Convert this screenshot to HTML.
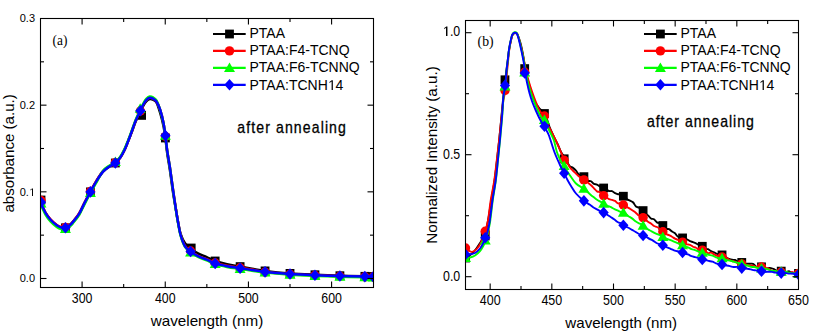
<!DOCTYPE html>
<html><head><meta charset="utf-8"><style>
html,body{margin:0;padding:0;background:#fff;}
svg{display:block;}
</style></head><body>
<svg width="820" height="336" viewBox="0 0 820 336">
<rect width="820" height="336" fill="#fff"/>
<defs><clipPath id="cl"><rect x="40.5" y="18.5" width="333" height="269"/></clipPath><clipPath id="cr"><rect x="465.5" y="20.5" width="333" height="269"/></clipPath></defs>
<g clip-path="url(#cl)"><path d="M40.50,202.20 C41.33,203.98 43.83,209.97 45.50,212.90 C47.17,215.83 48.62,217.68 50.50,219.75 C52.38,221.82 55.00,224.03 56.75,225.30 C58.50,226.58 59.54,226.98 61.00,227.40 C62.46,227.82 64.08,228.10 65.50,227.80 C66.92,227.50 68.25,226.58 69.50,225.60 C70.75,224.62 71.38,223.90 73.00,221.90 C74.62,219.90 77.32,216.77 79.25,213.60 C81.18,210.43 82.72,206.55 84.60,202.90 C86.47,199.25 88.47,195.42 90.50,191.70 C92.53,187.98 94.67,183.95 96.75,180.60 C98.83,177.25 100.92,173.93 103.00,171.60 C105.08,169.27 107.27,167.95 109.25,166.60 C111.23,165.25 113.06,165.02 114.90,163.50 C116.74,161.98 118.70,159.75 120.30,157.50 C121.90,155.25 123.18,152.75 124.50,150.00 C125.82,147.25 127.08,143.73 128.20,141.00 C129.32,138.27 129.94,136.91 131.20,133.61 C132.46,130.31 134.20,124.87 135.75,121.18 C137.30,117.48 139.21,114.06 140.50,111.43 C141.79,108.81 142.50,107.14 143.50,105.43 C144.50,103.72 145.46,102.23 146.50,101.17 C147.54,100.12 148.67,99.35 149.75,99.11 C150.83,98.87 151.86,99.16 153.00,99.74 C154.14,100.32 155.37,100.28 156.60,102.60 C157.83,104.92 159.25,109.75 160.40,113.67 C161.55,117.59 162.67,122.02 163.50,126.12 C164.33,130.22 164.78,133.69 165.40,138.25 C166.03,142.81 166.48,148.12 167.25,153.50 C168.02,158.88 169.06,164.17 170.00,170.50 C170.94,176.83 171.90,184.92 172.90,191.50 C173.90,198.08 175.13,204.84 176.00,210.00 C176.87,215.16 177.33,218.48 178.10,222.46 C178.87,226.44 179.45,230.42 180.60,233.89 C181.75,237.35 183.33,240.80 185.00,243.25 C186.67,245.70 188.43,246.91 190.60,248.61 C192.77,250.31 195.32,252.06 198.00,253.46 C200.68,254.86 203.83,255.78 206.70,257.03 C209.57,258.29 211.82,259.81 215.20,261.01 C218.58,262.20 222.83,263.25 227.00,264.18 C231.17,265.12 236.03,265.85 240.20,266.60 C244.37,267.36 247.88,267.97 252.00,268.69 C256.12,269.40 258.57,270.11 264.90,270.90 C271.23,271.68 281.67,272.76 290.00,273.40 C298.33,274.04 306.63,274.37 314.90,274.75 C323.17,275.13 331.33,275.44 339.60,275.70 C347.87,275.96 358.85,276.17 364.50,276.30 C370.15,276.43 372.00,276.47 373.50,276.50" fill="none" stroke="#000000" stroke-width="2.5" stroke-linejoin="round"/><rect x="36.60" y="195.60" width="8.80" height="8.80" fill="#000000"/><rect x="61.05" y="223.40" width="8.80" height="8.80" fill="#000000"/><rect x="86.00" y="187.49" width="8.80" height="8.80" fill="#000000"/><rect x="110.95" y="158.60" width="8.80" height="8.80" fill="#000000"/><rect x="137.20" y="111.00" width="8.80" height="8.80" fill="#000000"/><rect x="161.00" y="133.60" width="8.80" height="8.80" fill="#000000"/><rect x="186.80" y="243.60" width="8.80" height="8.80" fill="#000000"/><rect x="210.76" y="256.59" width="8.80" height="8.80" fill="#000000"/><rect x="235.71" y="262.19" width="8.80" height="8.80" fill="#000000"/><rect x="260.66" y="266.51" width="8.80" height="8.80" fill="#000000"/><rect x="285.61" y="269.00" width="8.80" height="8.80" fill="#000000"/><rect x="310.56" y="270.35" width="8.80" height="8.80" fill="#000000"/><rect x="335.51" y="271.31" width="8.80" height="8.80" fill="#000000"/><rect x="360.46" y="271.91" width="8.80" height="8.80" fill="#000000"/><rect x="368.78" y="272.09" width="8.80" height="8.80" fill="#000000"/><path d="M40.50,201.80 C41.33,203.58 43.83,209.57 45.50,212.50 C47.17,215.43 48.62,217.28 50.50,219.35 C52.38,221.42 55.00,223.62 56.75,224.90 C58.50,226.18 59.54,226.58 61.00,227.00 C62.46,227.42 64.08,227.70 65.50,227.40 C66.92,227.10 68.25,226.18 69.50,225.20 C70.75,224.22 71.38,223.50 73.00,221.50 C74.62,219.50 77.32,216.37 79.25,213.20 C81.18,210.03 82.72,206.15 84.60,202.50 C86.47,198.85 88.47,195.02 90.50,191.30 C92.53,187.58 94.67,183.55 96.75,180.20 C98.83,176.85 100.92,173.53 103.00,171.20 C105.08,168.87 107.27,167.55 109.25,166.20 C111.23,164.85 113.06,164.55 114.90,163.10 C116.74,161.65 118.70,159.68 120.30,157.50 C121.90,155.32 123.18,152.75 124.50,150.00 C125.82,147.25 127.08,143.83 128.20,141.00 C129.32,138.17 129.94,136.42 131.20,133.00 C132.46,129.58 134.20,124.25 135.75,120.50 C137.30,116.75 139.21,113.21 140.50,110.50 C141.79,107.79 142.50,106.03 143.50,104.25 C144.50,102.47 145.46,100.88 146.50,99.80 C147.54,98.72 148.67,97.95 149.75,97.75 C150.83,97.55 151.86,97.93 153.00,98.60 C154.14,99.27 155.37,99.77 156.60,101.75 C157.83,103.73 159.25,106.96 160.40,110.50 C161.55,114.04 162.67,118.79 163.50,123.00 C164.33,127.21 164.78,131.08 165.40,135.75 C166.03,140.42 166.48,145.62 167.25,151.00 C168.02,156.38 169.06,161.73 170.00,168.00 C170.94,174.27 171.90,181.67 172.90,188.60 C173.90,195.53 175.13,204.02 176.00,209.60 C176.87,215.18 177.33,217.93 178.10,222.10 C178.87,226.27 179.45,230.64 180.60,234.60 C181.75,238.56 183.33,243.10 185.00,245.85 C186.67,248.60 188.43,249.44 190.60,251.10 C192.77,252.76 195.32,254.45 198.00,255.80 C200.68,257.15 203.83,258.00 206.70,259.20 C209.57,260.40 211.82,261.90 215.20,263.00 C218.58,264.10 222.83,265.00 227.00,265.80 C231.17,266.60 236.03,267.17 240.20,267.80 C244.37,268.43 247.88,268.88 252.00,269.60 C256.12,270.32 258.57,271.33 264.90,272.10 C271.23,272.87 281.67,273.65 290.00,274.20 C298.33,274.75 306.63,275.07 314.90,275.40 C323.17,275.73 331.33,275.97 339.60,276.20 C347.87,276.43 358.85,276.67 364.50,276.80 C370.15,276.93 372.00,276.97 373.50,277.00" fill="none" stroke="#ff0000" stroke-width="2.5" stroke-linejoin="round"/><circle cx="41.00" cy="200.50" r="4.70" fill="#ff0000"/><circle cx="65.45" cy="227.40" r="4.70" fill="#ff0000"/><circle cx="90.40" cy="191.49" r="4.70" fill="#ff0000"/><circle cx="115.35" cy="162.63" r="4.70" fill="#ff0000"/><circle cx="140.40" cy="111.00" r="4.70" fill="#ff0000"/><circle cx="165.40" cy="136.50" r="4.70" fill="#ff0000"/><circle cx="190.60" cy="251.00" r="4.70" fill="#ff0000"/><circle cx="215.16" cy="262.98" r="4.70" fill="#ff0000"/><circle cx="240.11" cy="267.79" r="4.70" fill="#ff0000"/><circle cx="265.06" cy="272.11" r="4.70" fill="#ff0000"/><circle cx="290.01" cy="274.20" r="4.70" fill="#ff0000"/><circle cx="314.96" cy="275.40" r="4.70" fill="#ff0000"/><circle cx="339.91" cy="276.21" r="4.70" fill="#ff0000"/><circle cx="364.86" cy="276.81" r="4.70" fill="#ff0000"/><circle cx="373.18" cy="276.99" r="4.70" fill="#ff0000"/><path d="M40.50,203.90 C41.33,205.68 43.83,211.67 45.50,214.60 C47.17,217.53 48.62,219.38 50.50,221.45 C52.38,223.52 55.00,225.72 56.75,227.00 C58.50,228.28 59.54,228.77 61.00,229.10 C62.46,229.43 64.08,229.38 65.50,229.00 C66.92,228.62 68.25,227.78 69.50,226.80 C70.75,225.82 71.38,225.10 73.00,223.10 C74.62,221.10 77.32,217.97 79.25,214.80 C81.18,211.63 82.72,207.75 84.60,204.10 C86.47,200.45 88.47,196.62 90.50,192.90 C92.53,189.18 94.67,185.50 96.75,181.80 C98.83,178.10 100.92,173.38 103.00,170.70 C105.08,168.02 107.27,167.05 109.25,165.70 C111.23,164.35 113.06,164.12 114.90,162.60 C116.74,161.08 118.70,158.85 120.30,156.60 C121.90,154.35 123.18,151.85 124.50,149.10 C125.82,146.35 127.08,142.93 128.20,140.10 C129.32,137.27 129.94,135.52 131.20,132.10 C132.46,128.68 134.20,123.40 135.75,119.60 C137.30,115.80 139.21,112.06 140.50,109.30 C141.79,106.54 142.50,104.83 143.50,103.05 C144.50,101.27 145.46,99.68 146.50,98.60 C147.54,97.52 148.67,96.75 149.75,96.55 C150.83,96.35 151.86,96.73 153.00,97.40 C154.14,98.07 155.37,98.32 156.60,100.55 C157.83,102.78 159.25,107.01 160.40,110.80 C161.55,114.59 162.67,119.09 163.50,123.30 C164.33,127.51 164.78,131.38 165.40,136.05 C166.03,140.72 166.48,145.93 167.25,151.30 C168.02,156.68 169.06,161.97 170.00,168.30 C170.94,174.63 171.90,182.23 172.90,189.30 C173.90,196.37 175.13,205.05 176.00,210.70 C176.87,216.35 177.33,219.03 178.10,223.20 C178.87,227.37 179.45,231.74 180.60,235.70 C181.75,239.66 183.33,244.20 185.00,246.95 C186.67,249.70 188.43,250.54 190.60,252.20 C192.77,253.86 195.32,255.55 198.00,256.90 C200.68,258.25 203.83,259.10 206.70,260.30 C209.57,261.50 211.82,263.00 215.20,264.10 C218.58,265.20 222.83,266.10 227.00,266.90 C231.17,267.70 236.03,268.27 240.20,268.90 C244.37,269.53 247.88,270.08 252.00,270.70 C256.12,271.32 258.57,271.93 264.90,272.60 C271.23,273.27 281.67,274.15 290.00,274.70 C298.33,275.25 306.63,275.57 314.90,275.90 C323.17,276.23 331.33,276.47 339.60,276.70 C347.87,276.93 358.85,277.17 364.50,277.30 C370.15,277.43 372.00,277.47 373.50,277.50" fill="none" stroke="#00ff00" stroke-width="2.5" stroke-linejoin="round"/><path d="M41.00,197.99 L46.50,207.49 L35.50,207.49 Z" fill="#00ff00"/><path d="M65.45,223.49 L70.95,232.99 L59.95,232.99 Z" fill="#00ff00"/><path d="M90.40,187.58 L95.90,197.08 L84.90,197.08 Z" fill="#00ff00"/><path d="M115.35,156.59 L120.85,166.09 L109.85,166.09 Z" fill="#00ff00"/><path d="M140.20,103.29 L145.70,112.79 L134.70,112.79 Z" fill="#00ff00"/><path d="M165.40,130.29 L170.90,139.79 L159.90,139.79 Z" fill="#00ff00"/><path d="M190.60,246.99 L196.10,256.49 L185.10,256.49 Z" fill="#00ff00"/><path d="M215.16,258.57 L220.66,268.07 L209.66,268.07 Z" fill="#00ff00"/><path d="M240.11,263.38 L245.61,272.88 L234.61,272.88 Z" fill="#00ff00"/><path d="M265.06,267.10 L270.56,276.60 L259.56,276.60 Z" fill="#00ff00"/><path d="M290.01,269.19 L295.51,278.69 L284.51,278.69 Z" fill="#00ff00"/><path d="M314.96,270.39 L320.46,279.89 L309.46,279.89 Z" fill="#00ff00"/><path d="M339.91,271.20 L345.41,280.70 L334.41,280.70 Z" fill="#00ff00"/><path d="M364.86,271.80 L370.36,281.30 L359.36,281.30 Z" fill="#00ff00"/><path d="M373.18,271.98 L378.68,281.48 L367.68,281.48 Z" fill="#00ff00"/><path d="M40.50,202.20 C41.33,203.98 43.83,209.97 45.50,212.90 C47.17,215.83 48.62,217.68 50.50,219.75 C52.38,221.82 55.00,224.03 56.75,225.30 C58.50,226.58 59.54,226.98 61.00,227.40 C62.46,227.82 64.08,228.10 65.50,227.80 C66.92,227.50 68.25,226.58 69.50,225.60 C70.75,224.62 71.38,223.90 73.00,221.90 C74.62,219.90 77.32,216.77 79.25,213.60 C81.18,210.43 82.72,206.55 84.60,202.90 C86.47,199.25 88.47,195.42 90.50,191.70 C92.53,187.98 94.67,183.95 96.75,180.60 C98.83,177.25 100.92,173.93 103.00,171.60 C105.08,169.27 107.27,167.95 109.25,166.60 C111.23,165.25 113.06,165.02 114.90,163.50 C116.74,161.98 118.70,159.75 120.30,157.50 C121.90,155.25 123.18,152.75 124.50,150.00 C125.82,147.25 127.08,143.83 128.20,141.00 C129.32,138.17 129.94,136.42 131.20,133.00 C132.46,129.58 134.20,124.25 135.75,120.50 C137.30,116.75 139.21,113.21 140.50,110.50 C141.79,107.79 142.50,106.03 143.50,104.25 C144.50,102.47 145.46,100.88 146.50,99.80 C147.54,98.72 148.67,97.95 149.75,97.75 C150.83,97.55 151.86,97.93 153.00,98.60 C154.14,99.27 155.37,99.77 156.60,101.75 C157.83,103.73 159.25,106.96 160.40,110.50 C161.55,114.04 162.67,118.79 163.50,123.00 C164.33,127.21 164.78,131.08 165.40,135.75 C166.03,140.42 166.48,145.62 167.25,151.00 C168.02,156.38 169.06,161.67 170.00,168.00 C170.94,174.33 171.90,182.00 172.90,189.00 C173.90,196.00 175.13,204.42 176.00,210.00 C176.87,215.58 177.33,218.33 178.10,222.50 C178.87,226.67 179.45,231.04 180.60,235.00 C181.75,238.96 183.33,243.50 185.00,246.25 C186.67,249.00 188.43,249.84 190.60,251.50 C192.77,253.16 195.32,254.85 198.00,256.20 C200.68,257.55 203.83,258.40 206.70,259.60 C209.57,260.80 211.82,262.30 215.20,263.40 C218.58,264.50 222.83,265.40 227.00,266.20 C231.17,267.00 236.03,267.57 240.20,268.20 C244.37,268.83 247.88,269.38 252.00,270.00 C256.12,270.62 258.57,271.23 264.90,271.90 C271.23,272.57 281.67,273.45 290.00,274.00 C298.33,274.55 306.63,274.87 314.90,275.20 C323.17,275.53 331.33,275.77 339.60,276.00 C347.87,276.23 358.85,276.47 364.50,276.60 C370.15,276.73 372.00,276.77 373.50,276.80" fill="none" stroke="#0000ff" stroke-width="2.5" stroke-linejoin="round"/><path d="M41.00,196.40 L46.10,202.20 L41.00,208.00 L35.90,202.20 Z" fill="#0000ff"/><path d="M65.45,222.00 L70.55,227.80 L65.45,233.60 L60.35,227.80 Z" fill="#0000ff"/><path d="M90.40,186.09 L95.50,191.89 L90.40,197.69 L85.30,191.89 Z" fill="#0000ff"/><path d="M115.35,157.20 L120.45,163.00 L115.35,168.80 L110.25,163.00 Z" fill="#0000ff"/><path d="M140.40,105.00 L145.50,110.80 L140.40,116.60 L135.30,110.80 Z" fill="#0000ff"/><path d="M165.40,129.80 L170.50,135.60 L165.40,141.40 L160.30,135.60 Z" fill="#0000ff"/><path d="M190.60,245.70 L195.70,251.50 L190.60,257.30 L185.50,251.50 Z" fill="#0000ff"/><path d="M215.16,257.58 L220.26,263.38 L215.16,269.18 L210.06,263.38 Z" fill="#0000ff"/><path d="M240.11,262.39 L245.21,268.19 L240.11,273.99 L235.01,268.19 Z" fill="#0000ff"/><path d="M265.06,266.11 L270.16,271.91 L265.06,277.71 L259.96,271.91 Z" fill="#0000ff"/><path d="M290.01,268.20 L295.11,274.00 L290.01,279.80 L284.91,274.00 Z" fill="#0000ff"/><path d="M314.96,269.40 L320.06,275.20 L314.96,281.00 L309.86,275.20 Z" fill="#0000ff"/><path d="M339.91,270.21 L345.01,276.01 L339.91,281.81 L334.81,276.01 Z" fill="#0000ff"/><path d="M364.86,270.81 L369.96,276.61 L364.86,282.41 L359.76,276.61 Z" fill="#0000ff"/><path d="M373.18,270.99 L378.28,276.79 L373.18,282.59 L368.08,276.79 Z" fill="#0000ff"/></g>
<g clip-path="url(#cr)"><path d="M465.50,258.50 C465.92,258.17 466.92,257.33 468.00,256.50 C469.08,255.67 470.67,254.75 472.00,253.50 C473.33,252.25 474.67,250.75 476.00,249.00 C477.33,247.25 478.75,245.00 480.00,243.00 C481.25,241.00 482.50,239.17 483.50,237.00 C484.50,234.83 485.17,233.17 486.00,230.00 C486.83,226.83 487.62,223.00 488.50,218.00 C489.38,213.00 490.30,206.17 491.30,200.00 C492.30,193.83 493.55,187.67 494.50,181.00 C495.45,174.33 496.20,167.00 497.00,160.00 C497.80,153.00 498.58,146.00 499.30,139.00 C500.02,132.00 500.68,124.50 501.30,118.00 C501.92,111.50 502.33,106.40 503.00,100.00 C503.67,93.60 504.68,84.93 505.30,79.60 C505.92,74.27 506.25,71.60 506.70,68.00 C507.15,64.40 507.58,61.17 508.00,58.00 C508.42,54.83 508.65,52.20 509.20,49.00 C509.75,45.80 510.73,41.17 511.30,38.80 C511.87,36.43 512.03,35.77 512.60,34.80 C513.17,33.83 513.92,33.10 514.70,33.00 C515.48,32.90 516.53,33.13 517.30,34.20 C518.07,35.27 518.68,37.60 519.30,39.40 C519.92,41.20 520.45,42.82 521.00,45.00 C521.55,47.18 522.12,50.00 522.60,52.50 C523.08,55.00 523.53,57.37 523.90,60.00 C524.27,62.63 524.15,64.97 524.80,68.30 C525.45,71.63 526.80,76.38 527.80,80.00 C528.80,83.62 529.80,86.67 530.80,90.00 C531.80,93.33 532.35,96.92 533.80,100.00 C535.25,103.08 537.67,106.25 539.50,108.50 C541.33,110.75 543.13,110.45 544.80,113.50 C546.47,116.55 547.70,122.35 549.50,126.80 C551.30,131.25 554.18,137.20 555.60,140.20 C557.02,143.20 557.10,142.83 558.00,144.80 C558.90,146.76 560.00,150.02 561.00,152.00 C562.00,153.97 563.00,155.01 564.00,156.66 C565.00,158.31 566.00,160.28 567.00,161.89 C568.00,163.50 569.00,165.33 570.00,166.33 C571.00,167.32 572.00,167.14 573.00,167.87 C574.00,168.60 575.00,169.60 576.00,170.73 C577.00,171.86 578.00,173.95 579.00,174.65 C580.00,175.35 581.00,174.58 582.00,174.92 C583.00,175.25 584.00,175.72 585.00,176.67 C586.00,177.63 587.00,179.87 588.00,180.64 C589.00,181.40 590.00,180.72 591.00,181.26 C592.00,181.81 593.00,183.36 594.00,183.91 C595.00,184.45 596.00,184.09 597.00,184.52 C598.00,184.95 599.00,186.12 600.00,186.50 C601.00,186.87 602.00,186.32 603.00,186.78 C604.00,187.24 605.00,188.56 606.00,189.26 C607.00,189.96 608.00,190.66 609.00,190.98 C610.00,191.30 611.00,190.85 612.00,191.19 C613.00,191.53 614.00,192.53 615.00,193.04 C616.00,193.55 617.00,194.07 618.00,194.23 C619.00,194.40 620.00,193.50 621.00,194.02 C622.00,194.54 623.00,196.49 624.00,197.35 C625.00,198.21 626.00,198.63 627.00,199.19 C628.00,199.75 629.00,200.19 630.00,200.71 C631.00,201.22 632.00,201.31 633.00,202.28 C634.00,203.26 635.00,205.67 636.00,206.56 C637.00,207.45 638.00,207.01 639.00,207.65 C640.00,208.29 641.00,209.47 642.00,210.40 C643.00,211.32 644.00,212.36 645.00,213.18 C646.00,214.01 647.00,214.46 648.00,215.35 C649.00,216.23 650.00,217.82 651.00,218.48 C652.00,219.14 653.00,218.67 654.00,219.32 C655.00,219.98 656.00,221.70 657.00,222.40 C658.00,223.09 659.00,222.76 660.00,223.49 C661.00,224.22 662.00,225.88 663.00,226.79 C664.00,227.69 665.00,228.51 666.00,228.90 C667.00,229.30 668.00,228.72 669.00,229.16 C670.00,229.60 671.00,230.86 672.00,231.55 C673.00,232.24 674.00,232.43 675.00,233.31 C676.00,234.18 677.00,236.18 678.00,236.79 C679.00,237.40 680.00,236.61 681.00,236.96 C682.00,237.31 683.00,238.50 684.00,238.90 C685.00,239.30 686.00,238.96 687.00,239.34 C688.00,239.72 689.00,240.70 690.00,241.16 C691.00,241.63 692.00,241.77 693.00,242.12 C694.00,242.47 695.00,242.78 696.00,243.28 C697.00,243.79 698.00,244.62 699.00,245.14 C700.00,245.66 701.00,245.83 702.00,246.39 C703.00,246.96 704.00,248.05 705.00,248.52 C706.00,248.99 707.00,248.80 708.00,249.24 C709.00,249.68 710.00,250.67 711.00,251.18 C712.00,251.69 713.00,251.84 714.00,252.31 C715.00,252.78 716.00,253.62 717.00,253.98 C718.00,254.34 719.00,254.40 720.00,254.47 C721.00,254.55 722.00,253.94 723.00,254.43 C724.00,254.91 725.00,256.65 726.00,257.37 C727.00,258.10 728.00,258.38 729.00,258.78 C730.00,259.17 731.00,259.54 732.00,259.75 C733.00,259.96 734.00,259.73 735.00,260.03 C736.00,260.33 737.00,261.33 738.00,261.56 C739.00,261.79 740.00,261.03 741.00,261.40 C742.00,261.78 743.00,263.42 744.00,263.82 C745.00,264.23 746.00,263.83 747.00,263.81 C748.00,263.79 749.00,263.72 750.00,263.72 C751.00,263.72 752.00,263.34 753.00,263.81 C754.00,264.28 755.00,265.92 756.00,266.54 C757.00,267.17 758.00,267.68 759.00,267.57 C760.00,267.46 761.00,265.75 762.00,265.90 C763.00,266.04 764.00,268.06 765.00,268.43 C766.00,268.79 767.00,268.15 768.00,268.09 C769.00,268.03 770.00,267.92 771.00,268.09 C772.00,268.26 773.00,268.62 774.00,269.09 C775.00,269.57 776.00,270.50 777.00,270.96 C778.00,271.42 779.00,271.97 780.00,271.85 C781.00,271.74 782.00,270.19 783.00,270.24 C784.00,270.30 785.00,272.03 786.00,272.19 C787.00,272.34 788.00,270.98 789.00,271.16 C790.00,271.35 791.00,273.05 792.00,273.29 C793.00,273.53 793.83,272.58 795.00,272.62 C796.17,272.65 798.33,273.35 799.00,273.50" fill="none" stroke="#000000" stroke-width="1.9" stroke-linejoin="round"/><rect x="461.10" y="253.60" width="8.80" height="8.80" fill="#000000"/><rect x="480.83" y="231.60" width="8.80" height="8.80" fill="#000000"/><rect x="500.57" y="75.40" width="8.80" height="8.80" fill="#000000"/><rect x="520.30" y="64.20" width="8.80" height="8.80" fill="#000000"/><rect x="540.03" y="109.10" width="8.80" height="8.80" fill="#000000"/><rect x="559.76" y="154.40" width="8.80" height="8.80" fill="#000000"/><rect x="579.50" y="172.26" width="8.80" height="8.80" fill="#000000"/><rect x="599.23" y="183.61" width="8.80" height="8.80" fill="#000000"/><rect x="618.96" y="191.84" width="8.80" height="8.80" fill="#000000"/><rect x="638.70" y="206.20" width="8.80" height="8.80" fill="#000000"/><rect x="658.43" y="221.14" width="8.80" height="8.80" fill="#000000"/><rect x="678.16" y="233.53" width="8.80" height="8.80" fill="#000000"/><rect x="697.89" y="241.90" width="8.80" height="8.80" fill="#000000"/><rect x="717.63" y="250.52" width="8.80" height="8.80" fill="#000000"/><rect x="737.36" y="258.05" width="8.80" height="8.80" fill="#000000"/><rect x="757.09" y="262.45" width="8.80" height="8.80" fill="#000000"/><rect x="776.82" y="266.74" width="8.80" height="8.80" fill="#000000"/><rect x="794.09" y="269.04" width="8.80" height="8.80" fill="#000000"/><path d="M465.50,247.50 C466.00,248.00 467.52,249.77 468.50,250.50 C469.48,251.23 470.32,251.90 471.40,251.90 C472.48,251.90 473.73,251.48 475.00,250.50 C476.27,249.52 477.75,247.92 479.00,246.00 C480.25,244.08 481.48,241.45 482.50,239.00 C483.52,236.55 484.20,234.30 485.10,231.30 C486.00,228.30 486.95,226.22 487.90,221.00 C488.85,215.78 489.75,206.67 490.80,200.00 C491.85,193.33 493.20,187.67 494.20,181.00 C495.20,174.33 495.97,167.00 496.80,160.00 C497.63,153.00 498.43,146.00 499.20,139.00 C499.97,132.00 500.70,124.50 501.40,118.00 C502.10,111.50 502.72,104.60 503.40,100.00 C504.08,95.40 504.93,94.73 505.50,90.40 C506.07,86.07 506.38,78.73 506.80,74.00 C507.22,69.27 507.60,66.00 508.00,62.00 C508.40,58.00 508.65,53.83 509.20,50.00 C509.75,46.17 510.73,41.53 511.30,39.00 C511.87,36.47 512.03,35.83 512.60,34.80 C513.17,33.77 513.93,32.95 514.70,32.80 C515.47,32.65 516.48,32.87 517.20,33.90 C517.92,34.93 518.45,37.23 519.00,39.00 C519.55,40.77 520.03,42.67 520.50,44.50 C520.97,46.33 521.32,47.83 521.80,50.00 C522.28,52.17 522.88,55.08 523.40,57.50 C523.92,59.92 524.48,62.32 524.90,64.50 C525.32,66.68 525.30,67.93 525.90,70.60 C526.50,73.27 527.48,77.02 528.50,80.50 C529.52,83.98 530.83,88.08 532.00,91.50 C533.17,94.92 534.27,97.92 535.50,101.00 C536.73,104.08 538.23,107.75 539.40,110.00 C540.57,112.25 541.67,113.17 542.50,114.50 C543.33,115.83 543.23,115.75 544.40,118.00 C545.57,120.25 547.63,124.33 549.50,128.00 C551.37,131.67 554.18,137.10 555.60,140.00 C557.02,142.90 557.10,143.40 558.00,145.41 C558.90,147.42 560.00,149.84 561.00,152.06 C562.00,154.29 563.00,157.06 564.00,158.76 C565.00,160.46 566.00,160.79 567.00,162.26 C568.00,163.72 569.00,166.16 570.00,167.57 C571.00,168.98 572.00,169.72 573.00,170.73 C574.00,171.74 575.00,172.64 576.00,173.62 C577.00,174.59 578.00,175.90 579.00,176.58 C580.00,177.26 581.00,177.01 582.00,177.70 C583.00,178.39 584.00,179.92 585.00,180.74 C586.00,181.57 587.00,181.88 588.00,182.64 C589.00,183.40 590.00,184.36 591.00,185.31 C592.00,186.26 593.00,187.32 594.00,188.33 C595.00,189.34 596.00,190.72 597.00,191.36 C598.00,192.00 599.00,191.64 600.00,192.18 C601.00,192.72 602.00,193.79 603.00,194.60 C604.00,195.41 605.00,196.27 606.00,197.03 C607.00,197.79 608.00,198.67 609.00,199.14 C610.00,199.61 611.00,199.57 612.00,199.86 C613.00,200.16 614.00,200.32 615.00,200.92 C616.00,201.52 617.00,203.12 618.00,203.46 C619.00,203.81 620.00,202.54 621.00,202.99 C622.00,203.43 623.00,205.45 624.00,206.12 C625.00,206.80 626.00,206.58 627.00,207.02 C628.00,207.46 629.00,208.14 630.00,208.76 C631.00,209.38 632.00,210.04 633.00,210.74 C634.00,211.43 635.00,212.09 636.00,212.93 C637.00,213.77 638.00,215.19 639.00,215.76 C640.00,216.32 641.00,215.72 642.00,216.30 C643.00,216.88 644.00,218.34 645.00,219.24 C646.00,220.15 647.00,221.00 648.00,221.72 C649.00,222.44 650.00,222.84 651.00,223.56 C652.00,224.27 653.00,225.43 654.00,226.01 C655.00,226.58 656.00,226.51 657.00,227.00 C658.00,227.50 659.00,228.26 660.00,228.96 C661.00,229.67 662.00,230.39 663.00,231.22 C664.00,232.04 665.00,233.27 666.00,233.93 C667.00,234.59 668.00,234.72 669.00,235.19 C670.00,235.66 671.00,236.15 672.00,236.73 C673.00,237.31 674.00,238.17 675.00,238.69 C676.00,239.21 677.00,239.46 678.00,239.84 C679.00,240.22 680.00,240.37 681.00,240.95 C682.00,241.53 683.00,242.73 684.00,243.31 C685.00,243.89 686.00,244.17 687.00,244.42 C688.00,244.68 689.00,244.43 690.00,244.82 C691.00,245.20 692.00,246.24 693.00,246.73 C694.00,247.22 695.00,247.29 696.00,247.76 C697.00,248.24 698.00,249.15 699.00,249.60 C700.00,250.05 701.00,250.26 702.00,250.45 C703.00,250.63 704.00,250.24 705.00,250.71 C706.00,251.17 707.00,252.91 708.00,253.23 C709.00,253.56 710.00,252.48 711.00,252.65 C712.00,252.83 713.00,253.73 714.00,254.27 C715.00,254.81 716.00,255.67 717.00,255.90 C718.00,256.13 719.00,255.41 720.00,255.64 C721.00,255.87 722.00,256.99 723.00,257.30 C724.00,257.60 725.00,257.04 726.00,257.46 C727.00,257.87 728.00,259.18 729.00,259.78 C730.00,260.37 731.00,260.71 732.00,261.03 C733.00,261.35 734.00,261.30 735.00,261.69 C736.00,262.07 737.00,263.07 738.00,263.33 C739.00,263.59 740.00,263.03 741.00,263.25 C742.00,263.47 743.00,264.38 744.00,264.67 C745.00,264.96 746.00,264.86 747.00,264.99 C748.00,265.13 749.00,265.37 750.00,265.49 C751.00,265.60 752.00,265.46 753.00,265.70 C754.00,265.93 755.00,266.59 756.00,266.89 C757.00,267.20 758.00,267.50 759.00,267.53 C760.00,267.57 761.00,266.96 762.00,267.11 C763.00,267.26 764.00,268.26 765.00,268.43 C766.00,268.61 767.00,267.85 768.00,268.17 C769.00,268.50 770.00,269.95 771.00,270.40 C772.00,270.85 773.00,270.58 774.00,270.87 C775.00,271.16 776.00,271.89 777.00,272.14 C778.00,272.39 779.00,272.44 780.00,272.37 C781.00,272.30 782.00,271.75 783.00,271.72 C784.00,271.69 785.00,271.98 786.00,272.20 C787.00,272.42 788.00,273.08 789.00,273.04 C790.00,273.01 791.00,271.99 792.00,272.00 C793.00,272.01 793.83,272.86 795.00,273.11 C796.17,273.36 798.33,273.44 799.00,273.50" fill="none" stroke="#ff0000" stroke-width="1.9" stroke-linejoin="round"/><circle cx="465.50" cy="248.00" r="4.70" fill="#ff0000"/><circle cx="485.23" cy="231.30" r="4.70" fill="#ff0000"/><circle cx="504.97" cy="90.40" r="4.70" fill="#ff0000"/><circle cx="524.70" cy="72.20" r="4.70" fill="#ff0000"/><circle cx="544.43" cy="116.00" r="4.70" fill="#ff0000"/><circle cx="564.16" cy="160.30" r="4.70" fill="#ff0000"/><circle cx="583.90" cy="179.93" r="4.70" fill="#ff0000"/><circle cx="603.63" cy="195.61" r="4.70" fill="#ff0000"/><circle cx="623.36" cy="204.98" r="4.70" fill="#ff0000"/><circle cx="643.10" cy="217.60" r="4.70" fill="#ff0000"/><circle cx="662.83" cy="231.70" r="4.70" fill="#ff0000"/><circle cx="682.56" cy="242.09" r="4.70" fill="#ff0000"/><circle cx="702.29" cy="250.10" r="4.70" fill="#ff0000"/><circle cx="722.03" cy="256.98" r="4.70" fill="#ff0000"/><circle cx="741.76" cy="263.89" r="4.70" fill="#ff0000"/><circle cx="761.49" cy="267.00" r="4.70" fill="#ff0000"/><circle cx="781.22" cy="271.97" r="4.70" fill="#ff0000"/><circle cx="798.49" cy="273.46" r="4.70" fill="#ff0000"/><path d="M465.50,258.00 C466.25,257.92 468.42,257.92 470.00,257.50 C471.58,257.08 473.33,256.58 475.00,255.50 C476.67,254.42 478.67,252.50 480.00,251.00 C481.33,249.50 482.04,248.23 483.00,246.50 C483.96,244.77 484.92,243.02 485.75,240.60 C486.58,238.18 487.26,235.27 488.00,232.00 C488.74,228.73 489.40,226.33 490.20,221.00 C491.00,215.67 491.87,206.67 492.80,200.00 C493.73,193.33 494.93,187.67 495.80,181.00 C496.67,174.33 497.27,167.00 498.00,160.00 C498.73,153.00 499.52,146.00 500.20,139.00 C500.88,132.00 501.53,125.00 502.10,118.00 C502.67,111.00 503.05,102.50 503.60,97.00 C504.15,91.50 504.90,89.33 505.40,85.00 C505.90,80.67 506.18,75.17 506.60,71.00 C507.02,66.83 507.48,63.60 507.90,60.00 C508.32,56.40 508.55,53.00 509.10,49.40 C509.65,45.80 510.63,40.92 511.20,38.40 C511.77,35.88 511.93,35.32 512.50,34.30 C513.07,33.28 513.85,32.47 514.60,32.30 C515.35,32.13 516.30,32.27 517.00,33.30 C517.70,34.33 518.27,36.72 518.80,38.50 C519.33,40.28 519.77,42.18 520.20,44.00 C520.63,45.82 520.92,47.23 521.40,49.40 C521.88,51.57 522.58,54.57 523.10,57.00 C523.62,59.43 524.12,61.67 524.50,64.00 C524.88,66.33 524.88,68.17 525.40,71.00 C525.92,73.83 526.78,77.67 527.60,81.00 C528.42,84.33 529.32,87.83 530.30,91.00 C531.28,94.17 532.30,96.83 533.50,100.00 C534.70,103.17 536.17,107.08 537.50,110.00 C538.83,112.92 540.35,115.75 541.50,117.50 C542.65,119.25 543.15,118.42 544.40,120.50 C545.65,122.58 547.44,126.75 549.00,130.00 C550.56,133.25 552.43,136.33 553.75,140.00 C555.07,143.67 555.77,148.58 556.90,152.00 C558.02,155.42 559.30,158.08 560.50,160.50 C561.70,162.92 562.68,164.25 564.10,166.50 C565.52,168.75 567.02,171.17 569.00,174.00 C570.98,176.83 573.52,181.03 576.00,183.50 C578.48,185.97 581.57,187.02 583.90,188.80 C586.23,190.58 588.40,192.80 590.00,194.17 C591.60,195.55 592.33,196.13 593.50,197.06 C594.67,197.98 595.83,198.98 597.00,199.74 C598.17,200.50 599.33,200.91 600.50,201.61 C601.67,202.30 602.83,203.22 604.00,203.91 C605.17,204.61 606.33,205.24 607.50,205.78 C608.67,206.32 609.83,206.60 611.00,207.16 C612.17,207.72 613.33,208.54 614.50,209.13 C615.67,209.72 616.83,210.17 618.00,210.70 C619.17,211.23 620.33,211.84 621.50,212.31 C622.67,212.78 623.83,212.87 625.00,213.51 C626.17,214.15 627.33,215.35 628.50,216.16 C629.67,216.98 630.83,217.53 632.00,218.39 C633.17,219.25 634.33,220.51 635.50,221.33 C636.67,222.16 637.83,222.77 639.00,223.35 C640.17,223.94 641.33,224.06 642.50,224.84 C643.67,225.61 644.83,227.12 646.00,228.03 C647.17,228.93 648.33,229.60 649.50,230.29 C650.67,230.97 651.83,231.52 653.00,232.12 C654.17,232.72 655.33,233.36 656.50,233.88 C657.67,234.40 658.83,234.73 660.00,235.22 C661.17,235.72 662.33,236.23 663.50,236.85 C664.67,237.47 665.83,238.41 667.00,238.95 C668.17,239.49 669.33,239.63 670.50,240.08 C671.67,240.53 672.83,241.16 674.00,241.65 C675.17,242.14 676.33,242.61 677.50,243.03 C678.67,243.45 679.83,243.66 681.00,244.15 C682.17,244.63 683.33,245.42 684.50,245.95 C685.67,246.48 686.83,246.80 688.00,247.33 C689.17,247.86 690.33,248.68 691.50,249.14 C692.67,249.60 693.83,249.71 695.00,250.10 C696.17,250.49 697.33,251.06 698.50,251.48 C699.67,251.89 700.83,252.19 702.00,252.59 C703.17,252.99 704.33,253.52 705.50,253.89 C706.67,254.25 707.83,254.49 709.00,254.80 C710.17,255.10 711.33,255.29 712.50,255.71 C713.67,256.13 714.83,256.91 716.00,257.33 C717.17,257.75 718.33,257.94 719.50,258.23 C720.67,258.51 721.83,258.73 723.00,259.02 C724.17,259.32 725.33,259.71 726.50,259.99 C727.67,260.26 728.83,260.41 730.00,260.69 C731.17,260.97 732.33,261.31 733.50,261.64 C734.67,261.97 735.83,262.37 737.00,262.67 C738.17,262.96 739.33,263.02 740.50,263.41 C741.67,263.80 742.83,264.66 744.00,265.02 C745.17,265.37 746.33,265.22 747.50,265.53 C748.67,265.83 749.83,266.59 751.00,266.85 C752.17,267.10 753.33,266.81 754.50,267.05 C755.67,267.29 756.83,267.99 758.00,268.29 C759.17,268.59 760.33,268.79 761.50,268.85 C762.67,268.91 763.83,268.55 765.00,268.66 C766.17,268.78 767.33,269.17 768.50,269.54 C769.67,269.90 770.83,270.62 772.00,270.84 C773.17,271.07 774.33,270.71 775.50,270.88 C776.67,271.04 777.83,271.72 779.00,271.86 C780.17,272.00 781.33,271.73 782.50,271.73 C783.67,271.72 784.83,271.63 786.00,271.81 C787.17,271.98 788.33,272.53 789.50,272.77 C790.67,273.01 791.83,273.20 793.00,273.25 C794.17,273.29 795.50,273.01 796.50,273.05 C797.50,273.09 798.58,273.42 799.00,273.50" fill="none" stroke="#00ff00" stroke-width="1.9" stroke-linejoin="round"/><path d="M465.50,252.49 L471.00,261.99 L460.00,261.99 Z" fill="#00ff00"/><path d="M485.23,235.09 L490.73,244.59 L479.73,244.59 Z" fill="#00ff00"/><path d="M504.97,80.99 L510.47,90.49 L499.47,90.49 Z" fill="#00ff00"/><path d="M524.70,67.09 L530.20,76.59 L519.20,76.59 Z" fill="#00ff00"/><path d="M544.43,114.49 L549.93,123.99 L538.93,123.99 Z" fill="#00ff00"/><path d="M564.16,160.49 L569.66,169.99 L558.66,169.99 Z" fill="#00ff00"/><path d="M583.90,183.29 L589.40,192.79 L578.40,192.79 Z" fill="#00ff00"/><path d="M603.63,198.21 L609.13,207.71 L598.13,207.71 Z" fill="#00ff00"/><path d="M623.36,207.27 L628.86,216.77 L617.86,216.77 Z" fill="#00ff00"/><path d="M643.10,220.15 L648.60,229.65 L637.60,229.65 Z" fill="#00ff00"/><path d="M662.83,231.51 L668.33,241.01 L657.33,241.01 Z" fill="#00ff00"/><path d="M682.56,239.70 L688.06,249.20 L677.06,249.20 Z" fill="#00ff00"/><path d="M702.29,247.19 L707.79,256.69 L696.79,256.69 Z" fill="#00ff00"/><path d="M722.03,252.87 L727.53,262.37 L716.53,262.37 Z" fill="#00ff00"/><path d="M741.76,258.68 L747.26,268.18 L736.26,268.18 Z" fill="#00ff00"/><path d="M761.49,262.99 L766.99,272.49 L755.99,272.49 Z" fill="#00ff00"/><path d="M781.22,266.17 L786.72,275.67 L775.72,275.67 Z" fill="#00ff00"/><path d="M798.49,267.94 L803.99,277.44 L792.99,277.44 Z" fill="#00ff00"/><path d="M465.50,254.00 C466.25,254.05 468.42,254.47 470.00,254.30 C471.58,254.13 473.33,253.97 475.00,253.00 C476.67,252.03 478.67,250.08 480.00,248.50 C481.33,246.92 482.10,245.28 483.00,243.50 C483.90,241.72 484.65,239.72 485.40,237.80 C486.15,235.88 486.77,234.80 487.50,232.00 C488.23,229.20 488.92,226.33 489.75,221.00 C490.58,215.67 491.52,206.67 492.50,200.00 C493.48,193.33 494.70,187.67 495.60,181.00 C496.50,174.33 497.17,167.00 497.90,160.00 C498.63,153.00 499.33,146.00 500.00,139.00 C500.67,132.00 501.33,125.00 501.90,118.00 C502.47,111.00 502.84,102.43 503.40,97.00 C503.96,91.57 504.73,89.73 505.25,85.40 C505.77,81.07 506.07,75.23 506.50,71.00 C506.93,66.77 507.38,63.60 507.80,60.00 C508.22,56.40 508.45,52.95 509.00,49.40 C509.55,45.85 510.53,41.17 511.10,38.70 C511.67,36.23 511.82,35.60 512.40,34.60 C512.98,33.60 513.85,32.87 514.60,32.70 C515.35,32.53 516.23,32.60 516.90,33.60 C517.57,34.60 518.10,36.97 518.60,38.70 C519.10,40.43 519.48,42.22 519.90,44.00 C520.32,45.78 520.62,47.19 521.10,49.40 C521.58,51.61 522.25,54.73 522.75,57.25 C523.25,59.77 523.71,61.99 524.10,64.50 C524.49,67.01 524.60,69.22 525.10,72.30 C525.60,75.38 526.35,79.47 527.10,83.00 C527.85,86.53 528.73,90.33 529.60,93.50 C530.47,96.67 531.30,99.25 532.30,102.00 C533.30,104.75 534.35,107.17 535.60,110.00 C536.85,112.83 538.33,116.17 539.80,119.00 C541.27,121.83 542.91,124.33 544.40,127.00 C545.89,129.67 547.08,130.83 548.75,135.00 C550.42,139.17 552.52,147.00 554.40,152.00 C556.27,157.00 558.38,161.47 560.00,165.00 C561.62,168.53 562.85,170.70 564.10,173.20 C565.35,175.70 566.35,177.87 567.50,180.00 C568.65,182.13 569.58,183.75 571.00,186.00 C572.42,188.25 573.87,191.03 576.00,193.50 C578.13,195.97 581.47,198.91 583.80,200.80 C586.13,202.69 588.38,203.70 590.00,204.82 C591.62,205.94 592.33,206.76 593.50,207.51 C594.67,208.27 595.83,208.70 597.00,209.35 C598.17,210.00 599.33,210.86 600.50,211.39 C601.67,211.91 602.83,211.90 604.00,212.50 C605.17,213.09 606.33,214.15 607.50,214.93 C608.67,215.72 609.83,216.44 611.00,217.21 C612.17,217.99 613.33,218.72 614.50,219.56 C615.67,220.41 616.83,221.59 618.00,222.26 C619.17,222.94 620.33,222.97 621.50,223.62 C622.67,224.27 623.83,225.46 625.00,226.15 C626.17,226.85 627.33,227.16 628.50,227.78 C629.67,228.40 630.83,229.21 632.00,229.88 C633.17,230.55 634.33,231.13 635.50,231.82 C636.67,232.50 637.83,233.39 639.00,233.99 C640.17,234.58 641.33,234.96 642.50,235.39 C643.67,235.83 644.83,236.02 646.00,236.61 C647.17,237.19 648.33,238.24 649.50,238.91 C650.67,239.58 651.83,239.93 653.00,240.61 C654.17,241.29 655.33,242.35 656.50,242.99 C657.67,243.62 658.83,243.93 660.00,244.42 C661.17,244.91 662.33,245.42 663.50,245.92 C664.67,246.43 665.83,246.96 667.00,247.45 C668.17,247.94 669.33,248.37 670.50,248.85 C671.67,249.33 672.83,249.95 674.00,250.35 C675.17,250.75 676.33,251.02 677.50,251.23 C678.67,251.45 679.83,251.27 681.00,251.66 C682.17,252.05 683.33,253.10 684.50,253.57 C685.67,254.03 686.83,254.04 688.00,254.46 C689.17,254.89 690.33,255.68 691.50,256.12 C692.67,256.55 693.83,256.74 695.00,257.07 C696.17,257.39 697.33,257.72 698.50,258.06 C699.67,258.41 700.83,258.79 702.00,259.14 C703.17,259.49 704.33,259.87 705.50,260.17 C706.67,260.48 707.83,260.72 709.00,260.97 C710.17,261.22 711.33,261.27 712.50,261.66 C713.67,262.05 714.83,262.92 716.00,263.33 C717.17,263.75 718.33,263.83 719.50,264.14 C720.67,264.45 721.83,264.94 723.00,265.17 C724.17,265.41 725.33,265.40 726.50,265.56 C727.67,265.72 728.83,265.89 730.00,266.14 C731.17,266.39 732.33,266.92 733.50,267.04 C734.67,267.17 735.83,266.70 737.00,266.88 C738.17,267.05 739.33,267.84 740.50,268.10 C741.67,268.36 742.83,268.33 744.00,268.44 C745.17,268.55 746.33,268.60 747.50,268.77 C748.67,268.93 749.83,269.19 751.00,269.44 C752.17,269.70 753.33,270.13 754.50,270.29 C755.67,270.46 756.83,270.29 758.00,270.44 C759.17,270.58 760.33,270.94 761.50,271.15 C762.67,271.36 763.83,271.58 765.00,271.70 C766.17,271.81 767.33,271.79 768.50,271.81 C769.67,271.84 770.83,271.72 772.00,271.84 C773.17,271.97 774.33,272.46 775.50,272.58 C776.67,272.70 777.83,272.53 779.00,272.57 C780.17,272.62 781.33,272.78 782.50,272.87 C783.67,272.96 784.83,272.99 786.00,273.11 C787.17,273.23 788.33,273.53 789.50,273.60 C790.67,273.67 791.83,273.37 793.00,273.52 C794.17,273.67 795.50,274.32 796.50,274.49 C797.50,274.65 798.58,274.50 799.00,274.50" fill="none" stroke="#0000ff" stroke-width="1.9" stroke-linejoin="round"/><path d="M465.50,248.70 L470.60,254.50 L465.50,260.30 L460.40,254.50 Z" fill="#0000ff"/><path d="M485.23,232.00 L490.33,237.80 L485.23,243.60 L480.13,237.80 Z" fill="#0000ff"/><path d="M504.97,79.60 L510.07,85.40 L504.97,91.20 L499.87,85.40 Z" fill="#0000ff"/><path d="M524.70,67.20 L529.80,73.00 L524.70,78.80 L519.60,73.00 Z" fill="#0000ff"/><path d="M544.50,120.40 L549.60,126.20 L544.50,132.00 L539.40,126.20 Z" fill="#0000ff"/><path d="M564.16,167.40 L569.26,173.20 L564.16,179.00 L559.06,173.20 Z" fill="#0000ff"/><path d="M583.90,195.07 L589.00,200.87 L583.90,206.67 L578.80,200.87 Z" fill="#0000ff"/><path d="M603.63,206.82 L608.73,212.62 L603.63,218.42 L598.53,212.62 Z" fill="#0000ff"/><path d="M623.36,219.38 L628.46,225.18 L623.36,230.98 L618.26,225.18 Z" fill="#0000ff"/><path d="M643.10,229.75 L648.20,235.55 L643.10,241.35 L638.00,235.55 Z" fill="#0000ff"/><path d="M662.83,239.47 L667.93,245.27 L662.83,251.07 L657.73,245.27 Z" fill="#0000ff"/><path d="M682.56,246.63 L687.66,252.43 L682.56,258.23 L677.46,252.43 Z" fill="#0000ff"/><path d="M702.29,253.60 L707.39,259.40 L702.29,265.20 L697.19,259.40 Z" fill="#0000ff"/><path d="M722.03,258.58 L727.13,264.38 L722.03,270.18 L716.93,264.38 Z" fill="#0000ff"/><path d="M741.76,262.29 L746.86,268.09 L741.76,273.89 L736.66,268.09 Z" fill="#0000ff"/><path d="M761.49,265.40 L766.59,271.20 L761.49,277.00 L756.39,271.20 Z" fill="#0000ff"/><path d="M781.22,267.28 L786.32,273.08 L781.22,278.88 L776.12,273.08 Z" fill="#0000ff"/><path d="M798.49,268.66 L803.59,274.46 L798.49,280.26 L793.39,274.46 Z" fill="#0000ff"/></g>
<rect x="40.5" y="18.5" width="333.0" height="269.0" fill="none" stroke="#000" stroke-width="1.1"/><line x1="82.09" y1="287.50" x2="82.09" y2="281.50" stroke="#000" stroke-width="1.1"/><line x1="82.09" y1="18.50" x2="82.09" y2="24.50" stroke="#000" stroke-width="1.1"/><line x1="123.67" y1="287.50" x2="123.67" y2="284.00" stroke="#000" stroke-width="1.1"/><line x1="123.67" y1="18.50" x2="123.67" y2="22.00" stroke="#000" stroke-width="1.1"/><line x1="165.25" y1="287.50" x2="165.25" y2="281.50" stroke="#000" stroke-width="1.1"/><line x1="165.25" y1="18.50" x2="165.25" y2="24.50" stroke="#000" stroke-width="1.1"/><line x1="206.84" y1="287.50" x2="206.84" y2="284.00" stroke="#000" stroke-width="1.1"/><line x1="206.84" y1="18.50" x2="206.84" y2="22.00" stroke="#000" stroke-width="1.1"/><line x1="248.43" y1="287.50" x2="248.43" y2="281.50" stroke="#000" stroke-width="1.1"/><line x1="248.43" y1="18.50" x2="248.43" y2="24.50" stroke="#000" stroke-width="1.1"/><line x1="290.01" y1="287.50" x2="290.01" y2="284.00" stroke="#000" stroke-width="1.1"/><line x1="290.01" y1="18.50" x2="290.01" y2="22.00" stroke="#000" stroke-width="1.1"/><line x1="331.59" y1="287.50" x2="331.59" y2="281.50" stroke="#000" stroke-width="1.1"/><line x1="331.59" y1="18.50" x2="331.59" y2="24.50" stroke="#000" stroke-width="1.1"/><line x1="40.50" y1="278.50" x2="46.50" y2="278.50" stroke="#000" stroke-width="1.1"/><line x1="373.50" y1="278.50" x2="367.50" y2="278.50" stroke="#000" stroke-width="1.1"/><line x1="40.50" y1="235.16" x2="44.00" y2="235.16" stroke="#000" stroke-width="1.1"/><line x1="373.50" y1="235.16" x2="370.00" y2="235.16" stroke="#000" stroke-width="1.1"/><line x1="40.50" y1="191.83" x2="46.50" y2="191.83" stroke="#000" stroke-width="1.1"/><line x1="373.50" y1="191.83" x2="367.50" y2="191.83" stroke="#000" stroke-width="1.1"/><line x1="40.50" y1="148.49" x2="44.00" y2="148.49" stroke="#000" stroke-width="1.1"/><line x1="373.50" y1="148.49" x2="370.00" y2="148.49" stroke="#000" stroke-width="1.1"/><line x1="40.50" y1="105.16" x2="46.50" y2="105.16" stroke="#000" stroke-width="1.1"/><line x1="373.50" y1="105.16" x2="367.50" y2="105.16" stroke="#000" stroke-width="1.1"/><line x1="40.50" y1="61.82" x2="44.00" y2="61.82" stroke="#000" stroke-width="1.1"/><line x1="373.50" y1="61.82" x2="370.00" y2="61.82" stroke="#000" stroke-width="1.1"/><rect x="465.5" y="20.5" width="333.0" height="269.0" fill="none" stroke="#000" stroke-width="1.1"/><line x1="490.17" y1="289.50" x2="490.17" y2="283.50" stroke="#000" stroke-width="1.1"/><line x1="490.17" y1="20.50" x2="490.17" y2="26.50" stroke="#000" stroke-width="1.1"/><line x1="521.00" y1="289.50" x2="521.00" y2="286.00" stroke="#000" stroke-width="1.1"/><line x1="521.00" y1="20.50" x2="521.00" y2="24.00" stroke="#000" stroke-width="1.1"/><line x1="551.83" y1="289.50" x2="551.83" y2="283.50" stroke="#000" stroke-width="1.1"/><line x1="551.83" y1="20.50" x2="551.83" y2="26.50" stroke="#000" stroke-width="1.1"/><line x1="582.66" y1="289.50" x2="582.66" y2="286.00" stroke="#000" stroke-width="1.1"/><line x1="582.66" y1="20.50" x2="582.66" y2="24.00" stroke="#000" stroke-width="1.1"/><line x1="613.50" y1="289.50" x2="613.50" y2="283.50" stroke="#000" stroke-width="1.1"/><line x1="613.50" y1="20.50" x2="613.50" y2="26.50" stroke="#000" stroke-width="1.1"/><line x1="644.33" y1="289.50" x2="644.33" y2="286.00" stroke="#000" stroke-width="1.1"/><line x1="644.33" y1="20.50" x2="644.33" y2="24.00" stroke="#000" stroke-width="1.1"/><line x1="675.16" y1="289.50" x2="675.16" y2="283.50" stroke="#000" stroke-width="1.1"/><line x1="675.16" y1="20.50" x2="675.16" y2="26.50" stroke="#000" stroke-width="1.1"/><line x1="705.99" y1="289.50" x2="705.99" y2="286.00" stroke="#000" stroke-width="1.1"/><line x1="705.99" y1="20.50" x2="705.99" y2="24.00" stroke="#000" stroke-width="1.1"/><line x1="736.83" y1="289.50" x2="736.83" y2="283.50" stroke="#000" stroke-width="1.1"/><line x1="736.83" y1="20.50" x2="736.83" y2="26.50" stroke="#000" stroke-width="1.1"/><line x1="767.66" y1="289.50" x2="767.66" y2="286.00" stroke="#000" stroke-width="1.1"/><line x1="767.66" y1="20.50" x2="767.66" y2="24.00" stroke="#000" stroke-width="1.1"/><line x1="465.50" y1="276.70" x2="471.50" y2="276.70" stroke="#000" stroke-width="1.1"/><line x1="798.50" y1="276.70" x2="792.50" y2="276.70" stroke="#000" stroke-width="1.1"/><line x1="465.50" y1="215.70" x2="469.00" y2="215.70" stroke="#000" stroke-width="1.1"/><line x1="798.50" y1="215.70" x2="795.00" y2="215.70" stroke="#000" stroke-width="1.1"/><line x1="465.50" y1="154.70" x2="471.50" y2="154.70" stroke="#000" stroke-width="1.1"/><line x1="798.50" y1="154.70" x2="792.50" y2="154.70" stroke="#000" stroke-width="1.1"/><line x1="465.50" y1="93.70" x2="469.00" y2="93.70" stroke="#000" stroke-width="1.1"/><line x1="798.50" y1="93.70" x2="795.00" y2="93.70" stroke="#000" stroke-width="1.1"/><line x1="465.50" y1="32.70" x2="471.50" y2="32.70" stroke="#000" stroke-width="1.1"/><line x1="798.50" y1="32.70" x2="792.50" y2="32.70" stroke="#000" stroke-width="1.1"/>
<text x="35.00" y="282.40" font-family="Liberation Sans, sans-serif" font-size="11" text-anchor="end" >0.0</text><text x="19.71" y="195.73" font-family="Liberation Sans, sans-serif" font-size="11" text-anchor="start" >0.</text><path d="M515 1237L197 1010V1180L530 1409H696V0H515Z" transform="translate(29.234,196.000) scale(0.005371,-0.005371)" fill="#000"/><text x="35.00" y="109.06" font-family="Liberation Sans, sans-serif" font-size="11" text-anchor="end" >0.2</text><text x="35.00" y="22.39" font-family="Liberation Sans, sans-serif" font-size="11" text-anchor="end" >0.3</text><text x="82.09" y="302.60" font-family="Liberation Sans, sans-serif" font-size="13.8" text-anchor="middle" textLength="20.6" lengthAdjust="spacingAndGlyphs">300</text><text x="165.25" y="302.60" font-family="Liberation Sans, sans-serif" font-size="13.8" text-anchor="middle" textLength="20.6" lengthAdjust="spacingAndGlyphs">400</text><text x="248.43" y="302.60" font-family="Liberation Sans, sans-serif" font-size="13.8" text-anchor="middle" textLength="20.6" lengthAdjust="spacingAndGlyphs">500</text><text x="331.59" y="302.60" font-family="Liberation Sans, sans-serif" font-size="13.8" text-anchor="middle" textLength="20.6" lengthAdjust="spacingAndGlyphs">600</text><text x="207.00" y="325.60" font-family="Liberation Sans, sans-serif" font-size="15" text-anchor="middle" textLength="112.6" lengthAdjust="spacingAndGlyphs">wavelength (nm)</text><text x="0" y="0" font-family="Liberation Sans, sans-serif" font-size="15" text-anchor="middle" textLength="118.4" lengthAdjust="spacingAndGlyphs" transform="translate(13.8,153.4) rotate(-90)">absorbance (a.u.)</text><text x="52.60" y="44.60" font-family="Liberation Serif, sans-serif" font-size="14" text-anchor="start" textLength="14.9" lengthAdjust="spacingAndGlyphs">(a)</text><text x="460.20" y="280.70" font-family="Liberation Sans, sans-serif" font-size="13.8" text-anchor="end" textLength="17.2" lengthAdjust="spacingAndGlyphs">0.0</text><text x="460.20" y="158.70" font-family="Liberation Sans, sans-serif" font-size="13.8" text-anchor="end" textLength="17.2" lengthAdjust="spacingAndGlyphs">0.5</text><path d="M480 1237L197 1010V1180L530 1409H720V0H480Z" transform="translate(443.100,36.000) scale(0.006041,-0.006738)" fill="#000"/><text x="449.88" y="35.90" font-family="Liberation Sans, sans-serif" font-size="13.8" text-anchor="start" textLength="10.32" lengthAdjust="spacingAndGlyphs">.0</text><text x="490.17" y="304.70" font-family="Liberation Sans, sans-serif" font-size="13.8" text-anchor="middle" textLength="20.8" lengthAdjust="spacingAndGlyphs">400</text><text x="551.83" y="304.70" font-family="Liberation Sans, sans-serif" font-size="13.8" text-anchor="middle" textLength="20.8" lengthAdjust="spacingAndGlyphs">450</text><text x="613.50" y="304.70" font-family="Liberation Sans, sans-serif" font-size="13.8" text-anchor="middle" textLength="20.8" lengthAdjust="spacingAndGlyphs">500</text><text x="675.16" y="304.70" font-family="Liberation Sans, sans-serif" font-size="13.8" text-anchor="middle" textLength="20.8" lengthAdjust="spacingAndGlyphs">550</text><text x="736.83" y="304.70" font-family="Liberation Sans, sans-serif" font-size="13.8" text-anchor="middle" textLength="20.8" lengthAdjust="spacingAndGlyphs">600</text><text x="798.49" y="304.70" font-family="Liberation Sans, sans-serif" font-size="13.8" text-anchor="middle" textLength="20.8" lengthAdjust="spacingAndGlyphs">650</text><text x="621.20" y="328.00" font-family="Liberation Sans, sans-serif" font-size="15" text-anchor="middle" textLength="111.8" lengthAdjust="spacingAndGlyphs">wavelength (nm)</text><text x="0" y="0" font-family="Liberation Sans, sans-serif" font-size="15" text-anchor="middle" textLength="177.6" lengthAdjust="spacingAndGlyphs" transform="translate(437,155) rotate(-90)">Normalized Intensity (a.u.)</text><text x="477.60" y="45.90" font-family="Liberation Serif, sans-serif" font-size="14" text-anchor="start" textLength="16.0" lengthAdjust="spacingAndGlyphs">(b)</text><line x1="213.0" y1="34.0" x2="245.7" y2="34.0" stroke="#000000" stroke-width="2.2"/><rect x="225.10" y="29.60" width="8.80" height="8.80" fill="#000000"/><text x="249.50" y="38.00" font-family="Liberation Sans, sans-serif" font-size="14" text-anchor="start" >PTAA</text><line x1="213.0" y1="50.9" x2="245.7" y2="50.9" stroke="#ff0000" stroke-width="2.2"/><circle cx="229.50" cy="50.90" r="4.70" fill="#ff0000"/><text x="249.50" y="55.00" font-family="Liberation Sans, sans-serif" font-size="14" text-anchor="start" >PTAA:F4-TCNQ</text><line x1="213.0" y1="67.9" x2="245.7" y2="67.9" stroke="#00ff00" stroke-width="2.2"/><path d="M229.50,62.39 L235.00,71.89 L224.00,71.89 Z" fill="#00ff00"/><text x="249.50" y="72.00" font-family="Liberation Sans, sans-serif" font-size="14" text-anchor="start" >PTAA:F6-TCNNQ</text><line x1="213.0" y1="84.8" x2="245.7" y2="84.8" stroke="#0000ff" stroke-width="2.2"/><path d="M229.50,79.00 L234.60,84.80 L229.50,90.60 L224.40,84.80 Z" fill="#0000ff"/><text x="249.50" y="89.60" font-family="Liberation Sans, sans-serif" font-size="14" text-anchor="start" >PTAA:TCNH</text><path d="M515 1237L197 1010V1180L530 1409H696V0H515Z" transform="translate(328.097,90.000) scale(0.006836,-0.006836)" fill="#000"/><text x="335.58" y="89.60" font-family="Liberation Sans, sans-serif" font-size="14" text-anchor="start" >4</text><line x1="644.0" y1="34.0" x2="676.7" y2="34.0" stroke="#000000" stroke-width="2.2"/><rect x="656.00" y="29.60" width="8.80" height="8.80" fill="#000000"/><text x="680.50" y="38.00" font-family="Liberation Sans, sans-serif" font-size="14" text-anchor="start" >PTAA</text><line x1="644.0" y1="50.9" x2="676.7" y2="50.9" stroke="#ff0000" stroke-width="2.2"/><circle cx="660.40" cy="50.90" r="4.70" fill="#ff0000"/><text x="680.50" y="55.00" font-family="Liberation Sans, sans-serif" font-size="14" text-anchor="start" >PTAA:F4-TCNQ</text><line x1="644.0" y1="67.9" x2="676.7" y2="67.9" stroke="#00ff00" stroke-width="2.2"/><path d="M660.40,62.39 L665.90,71.89 L654.90,71.89 Z" fill="#00ff00"/><text x="680.50" y="72.00" font-family="Liberation Sans, sans-serif" font-size="14" text-anchor="start" >PTAA:F6-TCNNQ</text><line x1="644.0" y1="84.8" x2="676.7" y2="84.8" stroke="#0000ff" stroke-width="2.2"/><path d="M660.40,79.00 L665.50,84.80 L660.40,90.60 L655.30,84.80 Z" fill="#0000ff"/><text x="680.50" y="89.60" font-family="Liberation Sans, sans-serif" font-size="14" text-anchor="start" >PTAA:TCNH</text><path d="M515 1237L197 1010V1180L530 1409H696V0H515Z" transform="translate(759.097,90.000) scale(0.006836,-0.006836)" fill="#000"/><text x="766.58" y="89.60" font-family="Liberation Sans, sans-serif" font-size="14" text-anchor="start" >4</text><g transform="translate(237.3,132.7) scale(0.88,1)"><text x="0.00" y="0.00" font-family="Liberation Sans, sans-serif" font-size="16" text-anchor="start" textLength="123.41" lengthAdjust="spacing" stroke="#000" stroke-width="0.3">after annealing</text></g><g transform="translate(646.9,126.9) scale(0.88,1)"><text x="0.00" y="0.00" font-family="Liberation Sans, sans-serif" font-size="16" text-anchor="start" textLength="121.59" lengthAdjust="spacing" stroke="#000" stroke-width="0.3">after annealing</text></g>
</svg>
</body></html>
